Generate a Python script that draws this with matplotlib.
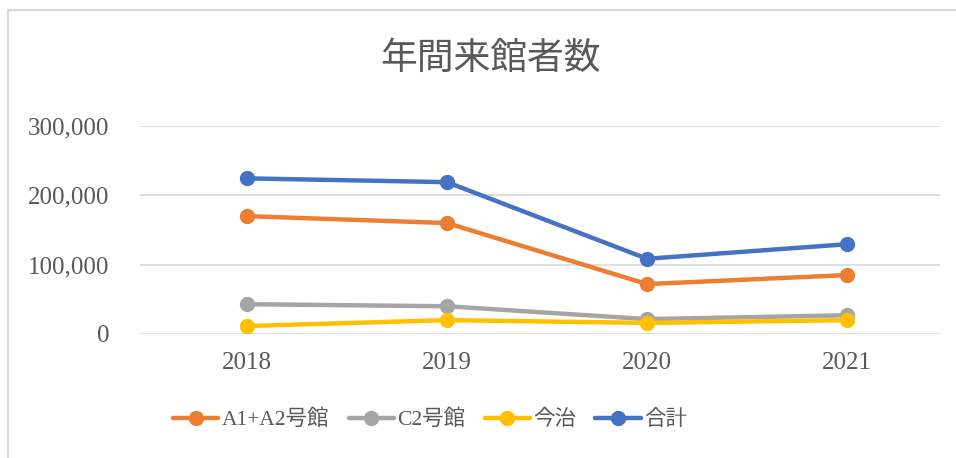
import matplotlib
matplotlib.use("Agg")
import matplotlib.pyplot as plt
from matplotlib.lines import Line2D
from matplotlib.ticker import FuncFormatter

years = ["2018", "2019", "2020", "2021"]
a1a2 = [170000, 160000, 72000, 85000]
c2 = [43000, 40000, 21500, 27000]
imabari = [11500, 20000, 16000, 20000]
total = [224500, 219000, 108500, 129500]
series_names = ["A1+A2号館", "C2号館", "今治", "合計"]
colors = ["#ED7D31", "#A5A5A5", "#FFC000", "#4472C4"]
yticks = [0, 100000, 200000, 300000]

fam = ["Liberation Serif", "Noto Sans CJK JP"]
plt.rcParams['font.family'] = fam
txt = "#595959"

W, H = 956, 458
fig = plt.figure(figsize=(W / 100, H / 100), dpi=100)
ax = fig.add_axes([140 / W, (H - 334) / H, 800 / W, (334 - 126) / H])

xs = list(range(len(years)))
for vals, name, col in zip([a1a2, c2, imabari, total], series_names, colors):
    ax.plot(xs, vals, color=col, lw=3.2, marker="o", markersize=10,
            label=name, solid_capstyle="round", zorder=3)

ax.set_xlim(-0.535, 3.465)
ax.set_ylim(0, 300000)
ax.set_yticks(yticks)
ax.yaxis.set_major_formatter(FuncFormatter(lambda v, p: f"{int(v):,}"))
ax.set_xticks(xs)
ax.set_xticklabels(years)
ax.grid(axis="y", color="#d9d9d9", lw=1.2, zorder=0)
for s in ax.spines.values():
    s.set_visible(False)
ax.tick_params(axis="y", length=0, pad=22, labelsize=18, labelcolor=txt)
ax.tick_params(axis="x", length=0, pad=13, labelsize=18, labelcolor=txt)

fig.text(490 / W, 1 - 60 / H, "年間来館者数", ha="center", va="center",
         fontsize=26.5, color=txt, family=fam)

leg = fig.legend(loc="center", bbox_to_anchor=(430 / W, 1 - 420 / H), ncol=4,
                 frameon=False, fontsize=15.5, handlelength=2.1, handletextpad=0.15,
                 columnspacing=0.9, labelcolor=txt)

# chart border
fig.add_artist(Line2D([8 / W, 1], [1 - 10 / H, 1 - 10 / H], color="#d9d9d9", lw=1.5,
                      transform=fig.transFigure))
fig.add_artist(Line2D([8 / W, 8 / W], [0, 1 - 10 / H], color="#d9d9d9", lw=1.5,
                      transform=fig.transFigure))

fig.savefig("out.png", dpi=100, facecolor="white")
